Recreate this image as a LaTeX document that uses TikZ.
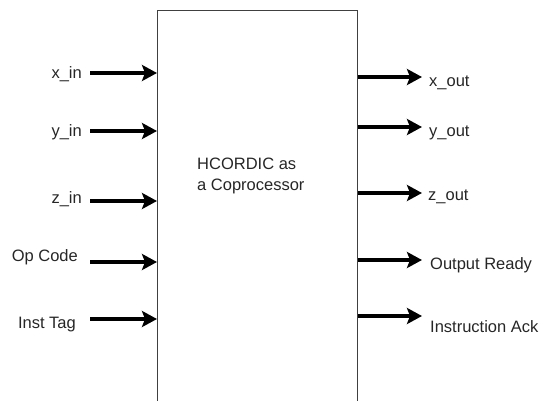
\documentclass[tikz,border=0pt]{standalone}
\usepackage{fontspec}
\setmainfont{Liberation Sans}
\usetikzlibrary{arrows.meta}
\begin{document}
\begin{tikzpicture}[x=1pt,y=-1pt,
  lbl/.style={inner sep=0pt,font=\fontsize{16.5}{19}\selectfont,text=black!85},
  inlbl/.style={lbl,anchor=base east},
  outlbl/.style={lbl,anchor=base west},
  sig/.style={line width=3.2pt,-{Stealth[length=15pt,width=16pt,inset=3pt]}},
  blk/.style={draw=black!75,line width=1pt,minimum width=200pt,minimum height=400pt,anchor=north west,inner sep=0pt}]
\useasboundingbox (0,0) rectangle (542,401);
\node[blk] (box) at (157,10) {};
\node[lbl,align=left,anchor=base west,font=\fontsize{16.5}{21.5}\selectfont] (title) at (197,191) {HCORDIC as\\a Coprocessor};
% inputs
\node[inlbl] (xin) at (82,79) {x\_in};
\node[inlbl] (yin) at (82,137) {y\_in};
\node[inlbl] (zin) at (82,204) {z\_in};
\node[inlbl] (op) at (78,262) {Op Code};
\node[inlbl] (tag) at (76,329) {Inst Tag};
\coordinate (xis) at (90,73);
\coordinate (yis) at (90,131);
\coordinate (zis) at (90,201);
\coordinate (ops) at (90,262);
\coordinate (tags) at (90,319);
\foreach \c in {xis,yis,zis,ops,tags}
  \draw[sig] (\c) -- (\c -| box.west);
% outputs
\coordinate (xoe) at (422,77);
\coordinate (yoe) at (422,127);
\coordinate (zoe) at (422,193);
\coordinate (rde) at (422,260);
\coordinate (acke) at (422,316);
\foreach \c in {xoe,yoe,zoe,rde,acke}
  \draw[sig] (\c -| box.east) -- (\c);
\node[outlbl] (xout) at (429,87) {x\_out};
\node[outlbl] (yout) at (429,137) {y\_out};
\node[outlbl] (zout) at (428,201) {z\_out};
\node[outlbl] (rdy) at (430,270) {Output Ready};
\node[outlbl] (ack) at (430,333) {Instruction Ack};
\end{tikzpicture}
\end{document}
